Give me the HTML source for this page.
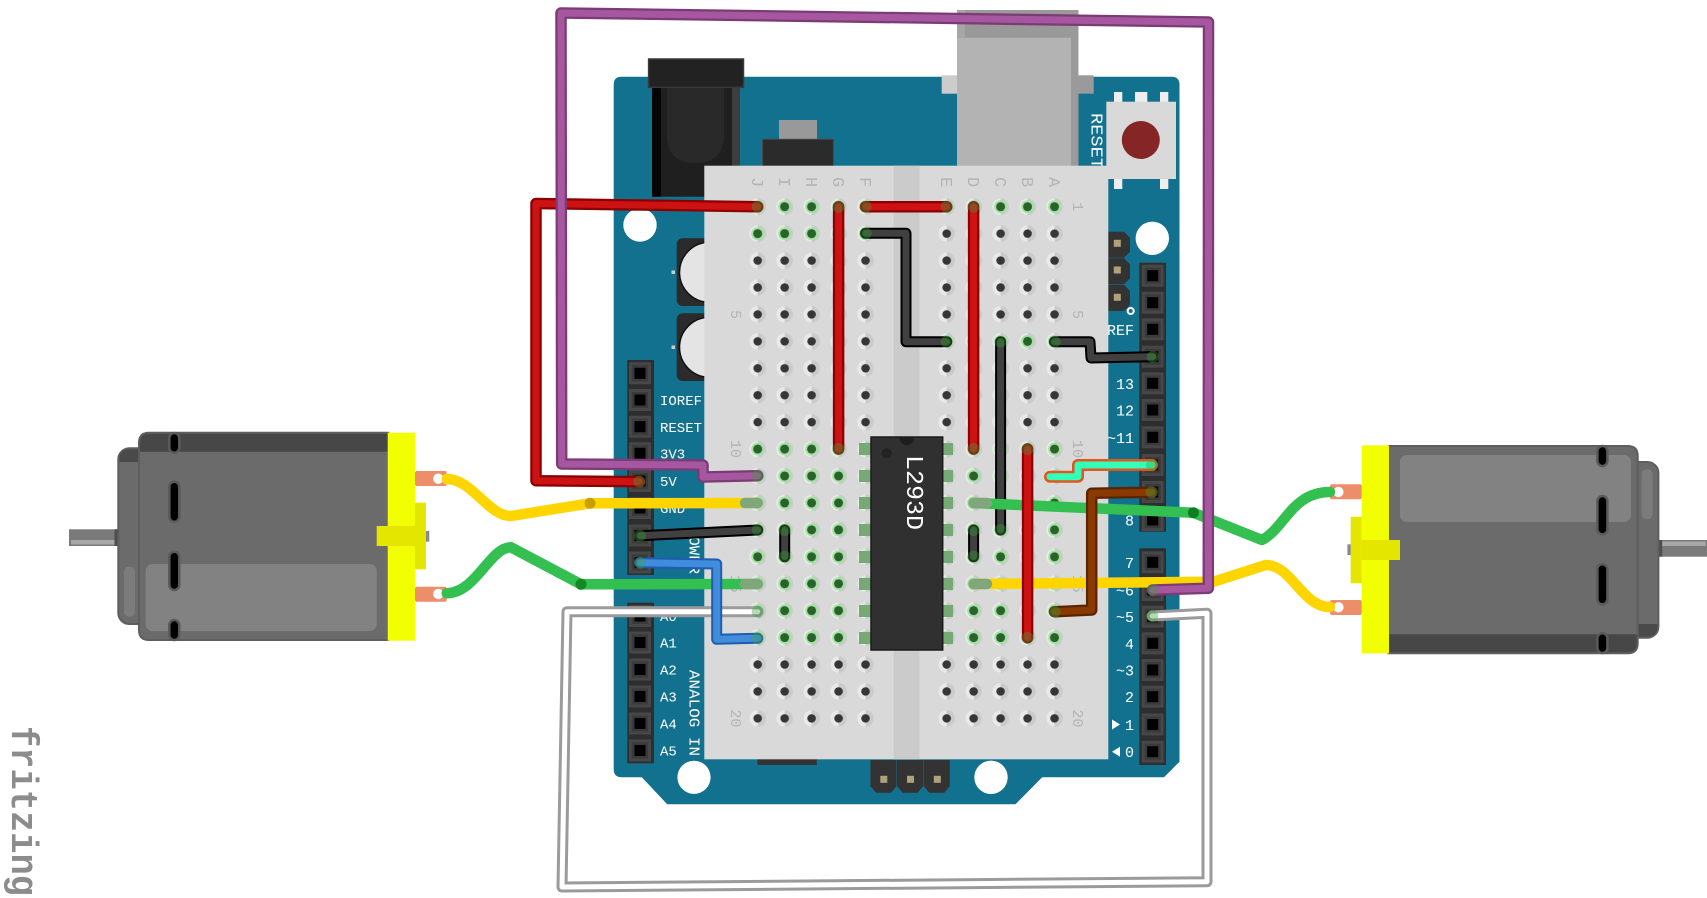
<!DOCTYPE html>
<html><head><meta charset="utf-8"><style>
html,body{margin:0;padding:0;background:#fff;}
svg{display:block;}
.lbl{font-family:"Liberation Mono","DejaVu Sans Mono",monospace;fill:#fff;}
.bb{font-family:"Liberation Mono","DejaVu Sans Mono",monospace;fill:#b4b4b4;}
</style></head><body>
<svg width="1707" height="898" viewBox="0 0 1707 898" xmlns="http://www.w3.org/2000/svg">
<defs>
<pattern id="hL" patternUnits="userSpaceOnUse" x="744.22" y="193.235" width="26.96" height="26.93">
 <circle cx="13.48" cy="13.465" r="8.3" fill="#cbcbcb"/>
 <path d="M13.48,5.165 A8.3,8.3 0 0 0 13.48,21.765 Z" fill="#e9e9e9"/>
 <circle cx="13.48" cy="13.465" r="4.3" fill="#363636"/>
</pattern>
<pattern id="hR" patternUnits="userSpaceOnUse" x="933.22" y="193.235" width="26.96" height="26.93">
 <circle cx="13.48" cy="13.465" r="8.3" fill="#cbcbcb"/>
 <path d="M13.48,5.165 A8.3,8.3 0 0 0 13.48,21.765 Z" fill="#e9e9e9"/>
 <circle cx="13.48" cy="13.465" r="4.3" fill="#363636"/>
</pattern>
<pattern id="gL" patternUnits="userSpaceOnUse" x="744.22" y="193.235" width="26.96" height="26.93">
 <circle cx="13.48" cy="13.465" r="8.3" fill="#cbcbcb"/>
 <path d="M13.48,5.165 A8.3,8.3 0 0 0 13.48,21.765 Z" fill="#e9e9e9"/>
 <circle cx="13.48" cy="13.465" r="6.4" fill="#9de69d"/>
 <circle cx="13.48" cy="13.465" r="4.5" fill="#2c602c"/>
</pattern>
<pattern id="gR" patternUnits="userSpaceOnUse" x="933.22" y="193.235" width="26.96" height="26.93">
 <circle cx="13.48" cy="13.465" r="8.3" fill="#cbcbcb"/>
 <path d="M13.48,5.165 A8.3,8.3 0 0 0 13.48,21.765 Z" fill="#e9e9e9"/>
 <circle cx="13.48" cy="13.465" r="6.4" fill="#9de69d"/>
 <circle cx="13.48" cy="13.465" r="4.5" fill="#2c602c"/>
</pattern>
<g id="pin">
 <rect x="-11" y="-11" width="22" height="22" fill="#474747"/>
 <rect x="-8" y="-8" width="16" height="16" fill="#3a3a3a"/>
 <rect x="-5.5" y="-5.5" width="11" height="11" fill="#000"/>
</g>
<g id="motor">
 <rect x="69" y="529.3" width="50" height="16.7" fill="#7a7a7a"/>
 <rect x="71" y="540" width="44" height="4.5" fill="#a8a8a8"/>
 <rect x="114.5" y="529.3" width="5" height="16.7" fill="#4d4d4d"/>
 <rect x="118.3" y="448.3" width="30" height="175.7" rx="11" fill="#6b6b6b" stroke="#5e5e5e" stroke-width="2"/>
 <path d="M119.3,462 V459 Q119.3,449.3 130,449.3 H141 V462 Z" fill="#4a4a4a"/>
 <rect x="124" y="566.7" width="11" height="50" rx="5" fill="#7c7c7c"/>
 <path d="M149,432.7 H388.3 V640 H149 Q139,640 139,630 V442.7 Q139,432.7 149,432.7 Z" fill="#6b6b6b" stroke="#5e5e5e" stroke-width="2"/>
 <path d="M149,433.7 H388 V451.7 H140 V443 Q140,433.7 149,433.7 Z" fill="#474747"/>
 <rect x="145.7" y="564" width="231" height="67" rx="7" fill="#828282"/>
 <rect x="169.3" y="433" width="10" height="19.7" rx="5" fill="#000" stroke="#5a5a5a" stroke-width="2.5"/>
 <rect x="169.3" y="481.7" width="10" height="40" rx="5" fill="#000" stroke="#5a5a5a" stroke-width="2.5"/>
 <rect x="169.3" y="551.7" width="10" height="38.3" rx="5" fill="#000" stroke="#5a5a5a" stroke-width="2.5"/>
 <rect x="169.3" y="620" width="10" height="20" rx="5" fill="#000" stroke="#5a5a5a" stroke-width="2.5"/>
 <rect x="387.7" y="432.7" width="27.3" height="208" fill="#f2ff00"/>
 <rect x="376.7" y="526" width="38.3" height="20" fill="#e4e600"/>
 <rect x="415" y="502.7" width="11" height="66.6" fill="#e4e600"/>
 <rect x="426" y="531" width="3.3" height="10.7" fill="#8a8a8a"/>
 <rect x="415" y="471" width="31.7" height="15" rx="2" fill="#ee8d69"/>
 <circle cx="438.3" cy="478.7" r="5.2" fill="#fff"/>
 <rect x="415" y="586.7" width="31.7" height="15" rx="2" fill="#ee8d69"/>
 <circle cx="438.3" cy="594" r="5.2" fill="#fff"/>
</g>
</defs>

<!-- Arduino board -->
<path d="M621.4,76.7 H1171.5 Q1179.5,76.7 1179.5,84.7 V761.7 L1164,777.3 H1042.2 L1015.4,804.3 H667.2 L641.8,777.3 H621.7 Q613.7,777.3 613.7,769.3 V84.7 Q613.7,76.7 621.4,76.7 Z" fill="#12718e"/>
<circle cx="640" cy="225" r="16.7" fill="#fff"/>
<circle cx="1152.3" cy="238.3" r="16.7" fill="#fff"/>
<circle cx="694" cy="777.3" r="16.6" fill="#fff"/>
<circle cx="991" cy="777.3" r="16.7" fill="#fff"/>

<!-- USB -->
<rect x="941.7" y="75.3" width="15.3" height="18.4" fill="#cccccc"/>
<rect x="1078.4" y="75.3" width="15.3" height="18.4" fill="#9a9a9a"/>
<rect x="957" y="10" width="121.4" height="160" fill="#b3b3b3"/>
<rect x="957" y="10" width="121.4" height="27.7" fill="#999"/>
<rect x="957" y="10" width="8" height="27.7" fill="#a6a6a6"/>
<rect x="1071" y="10" width="7.4" height="160" fill="#9a9a9a"/>

<!-- power jack -->
<rect x="652" y="87.3" width="88" height="109.4" fill="#1f1f1f"/>
<rect x="652" y="87.3" width="9" height="109.4" fill="#050505"/>
<rect x="732" y="87.3" width="8" height="109.4" fill="#3d3d3d"/>
<path d="M667,87.3 V135 Q667,163 695,163 Q724,163 724,135 V87.3 Z" fill="#292929"/>
<rect x="648.6" y="59" width="94.9" height="28.3" fill="#222" stroke="#3a3a3a" stroke-width="1.5"/>

<!-- regulator -->
<rect x="779" y="120" width="38" height="19.3" fill="#999"/>
<rect x="762.6" y="139.3" width="70.8" height="30" fill="#2b2b2b" stroke="#474747" stroke-width="1"/>

<!-- capacitors -->
<rect x="676.7" y="238.3" width="40" height="67.7" rx="6" fill="#2b2b2b"/>
<circle cx="709.5" cy="272.3" r="30" fill="#e4e4e4" stroke="#111" stroke-width="1.5"/>
<rect x="676.7" y="313.3" width="40" height="67.7" rx="6" fill="#2b2b2b"/>
<circle cx="709.5" cy="347.3" r="30" fill="#e4e4e4" stroke="#111" stroke-width="1.5"/>
<rect x="671.5" y="270.5" width="3.5" height="3.5" fill="#ccc"/>
<rect x="671.5" y="345.5" width="3.5" height="3.5" fill="#ccc"/>

<!-- reset -->
<rect x="1114" y="92" width="8.3" height="10" fill="#eee"/>
<rect x="1135" y="92" width="12.3" height="10" fill="#eee"/>
<rect x="1160" y="92" width="8.3" height="10" fill="#eee"/>
<rect x="1114" y="178" width="8.3" height="11" fill="#eee"/>
<rect x="1160" y="178" width="8.3" height="11" fill="#eee"/>
<rect x="1106.3" y="101.7" width="69.7" height="77.3" fill="#d9d9d9"/>
<circle cx="1140.8" cy="140" r="19" fill="#862525"/>
<text class="lbl" font-size="17" transform="translate(1091.5,113) rotate(90)" textLength="56" lengthAdjust="spacingAndGlyphs">RESET</text>

<!-- ICSP right -->
<path d="M1108,231.7 H1124 L1130,237.7 V251.7 L1124,257.7 H1108 Z" fill="#333"/>
<path d="M1108,258.3 H1124 L1130,264.3 V278.3 L1124,284.3 H1108 Z" fill="#333"/>
<path d="M1108,284.9 H1124 L1130,290.9 V304.9 L1124,310.9 H1108 Z" fill="#333"/>
<rect x="1113.8" y="239.8" width="7" height="7" fill="#b0a37a"/>
<rect x="1113.8" y="266.5" width="7" height="7" fill="#b0a37a"/>
<rect x="1113.8" y="293.8" width="7" height="7" fill="#b0a37a"/>
<circle cx="1130.7" cy="311" r="3" fill="none" stroke="#fff" stroke-width="2"/>

<!-- ICSP bottom -->
<path d="M870.4,760 H896.5 V786 L891,792.7 H876 L870.4,786 Z" fill="#333"/>
<path d="M897,760 H923.2 V786 L917.6,792.7 H902.6 L897,786 Z" fill="#333"/>
<path d="M923.7,760 H949.8 V786 L944.3,792.7 H929.3 L923.7,786 Z" fill="#333"/>
<rect x="880.3" y="775.8" width="7" height="7" fill="#b0a37a"/>
<rect x="907" y="775.8" width="7" height="7" fill="#b0a37a"/>
<rect x="933.8" y="775.8" width="7" height="7" fill="#b0a37a"/>
<rect x="757.4" y="757" width="59.4" height="8" fill="#333"/>

<!-- headers -->
<rect x="627.3" y="360" width="26.7" height="215" fill="#2e2e2e"/>
<rect x="627.3" y="602.7" width="26.7" height="160.6" fill="#2e2e2e"/>
<rect x="1139.3" y="262.7" width="26.7" height="269" fill="#2e2e2e"/>
<rect x="1139.3" y="548.3" width="26.7" height="216.7" fill="#2e2e2e"/>
<use href="#pin" x="640" y="373.3"/><use href="#pin" x="640" y="400"/><use href="#pin" x="640" y="426.7"/><use href="#pin" x="640" y="453.3"/>
<use href="#pin" x="640" y="481"/><use href="#pin" x="640" y="508"/><use href="#pin" x="640" y="535.5"/><use href="#pin" x="640" y="562.5"/>
<use href="#pin" x="640" y="616"/><use href="#pin" x="640" y="642.5"/><use href="#pin" x="640" y="669.5"/><use href="#pin" x="640" y="696.5"/><use href="#pin" x="640" y="723.5"/><use href="#pin" x="640" y="750.5"/>
<use href="#pin" x="1152.7" y="275.7"/><use href="#pin" x="1152.7" y="302.7"/><use href="#pin" x="1152.7" y="329.3"/><use href="#pin" x="1152.7" y="356.7"/><use href="#pin" x="1152.7" y="383.3"/>
<use href="#pin" x="1152.7" y="410"/><use href="#pin" x="1152.7" y="437.3"/><use href="#pin" x="1152.7" y="465"/><use href="#pin" x="1152.7" y="492"/><use href="#pin" x="1152.7" y="520"/>
<use href="#pin" x="1152.7" y="562.3"/><use href="#pin" x="1152.7" y="590"/><use href="#pin" x="1152.7" y="616.7"/><use href="#pin" x="1152.7" y="643.3"/><use href="#pin" x="1152.7" y="670"/>
<use href="#pin" x="1152.7" y="696.7"/><use href="#pin" x="1152.7" y="724.5"/><use href="#pin" x="1152.7" y="751.7"/>

<!-- board labels -->
<g class="lbl" font-size="14">
<text x="660" y="405">IOREF</text>
<text x="660" y="432">RESET</text>
<text x="660" y="458.5">3V3</text>
<text x="660" y="486">5V</text>
<text x="660" y="513">GND</text>
<text x="660" y="621">A0</text>
<text x="660" y="647.5">A1</text>
<text x="660" y="674.5">A2</text>
<text x="660" y="701.5">A3</text>
<text x="660" y="728.5">A4</text>
<text x="660" y="755.5">A5</text>
</g>
<text class="lbl" font-size="15" transform="translate(689.5,670) rotate(90)" textLength="86" lengthAdjust="spacingAndGlyphs">ANALOG IN</text>
<text class="lbl" font-size="15" transform="translate(689.5,527) rotate(90)" textLength="47" lengthAdjust="spacingAndGlyphs">POWER</text>
<g class="lbl" font-size="15" text-anchor="end">
<text x="1134" y="335">AREF</text>
<text x="1134" y="389">13</text>
<text x="1134" y="415.5">12</text>
<text x="1134" y="443">~11</text>
<text x="1134" y="470.5">~10</text>
<text x="1134" y="497.5">~9</text>
<text x="1134" y="525.5">8</text>
<text x="1134" y="568">7</text>
<text x="1134" y="595.5">~6</text>
<text x="1134" y="622">~5</text>
<text x="1134" y="649">4</text>
<text x="1134" y="675.5">~3</text>
<text x="1134" y="702">2</text>
<text x="1134" y="730">1</text>
<text x="1134" y="757">0</text>
</g>
<polygon points="1112,719.5 1120,724.5 1112,729.5" fill="#fff"/>
<polygon points="1120,746.7 1112,751.7 1120,756.7" fill="#fff"/>

<!-- breadboard -->
<rect x="704.3" y="165.7" width="404" height="593.6" fill="#d9d9d9"/>
<rect x="893.6" y="165.7" width="25.9" height="593.6" fill="#cbcbcb"/>
<rect x="744.22" y="193.235" width="134.8" height="538.6" fill="url(#hL)"/>
<rect x="933.22" y="193.235" width="134.8" height="538.6" fill="url(#hR)"/>
<rect x="744.22" y="193.235" width="134.8" height="53.86" fill="url(#gL)"/>
<rect x="744.22" y="435.605" width="134.8" height="215.44" fill="url(#gL)"/>
<rect x="933.22" y="193.235" width="134.8" height="26.93" fill="url(#gR)"/>
<rect x="933.22" y="327.885" width="134.8" height="26.93" fill="url(#gR)"/>
<rect x="933.22" y="435.605" width="134.8" height="215.44" fill="url(#gR)"/>

<g class="bb" font-size="17">
<text transform="translate(752,177) rotate(90)">J</text>
<text transform="translate(779,177) rotate(90)">I</text>
<text transform="translate(806,177) rotate(90)">H</text>
<text transform="translate(833,177) rotate(90)">G</text>
<text transform="translate(860,177) rotate(90)">F</text>
<text transform="translate(941,177) rotate(90)">E</text>
<text transform="translate(968,177) rotate(90)">D</text>
<text transform="translate(995,177) rotate(90)">C</text>
<text transform="translate(1022,177) rotate(90)">B</text>
<text transform="translate(1049,177) rotate(90)">A</text>
</g>
<g class="bb" font-size="15" text-anchor="middle">
<text transform="translate(731,314.5) rotate(90)">5</text>
<text transform="translate(731,449) rotate(90)">10</text>
<text transform="translate(731,583.8) rotate(90)">15</text>
<text transform="translate(731,718.4) rotate(90)">20</text>
<text transform="translate(1073,206.7) rotate(90)">1</text>
<text transform="translate(1073,314.5) rotate(90)">5</text>
<text transform="translate(1073,449) rotate(90)">10</text>
<text transform="translate(1073,583.8) rotate(90)">15</text>
<text transform="translate(1073,718.4) rotate(90)">20</text>
</g>

<!-- chip -->
<g fill="#76a976">
<rect x="859" y="443" width="13" height="12"/><rect x="859" y="470" width="13" height="12"/><rect x="859" y="497" width="13" height="12"/><rect x="859" y="524" width="13" height="12"/>
<rect x="859" y="551" width="13" height="12"/><rect x="859" y="578" width="13" height="12"/><rect x="859" y="605" width="13" height="12"/><rect x="859" y="632" width="13" height="12"/>
<rect x="941" y="443" width="12" height="12"/><rect x="941" y="470" width="12" height="12"/><rect x="941" y="497" width="12" height="12"/><rect x="941" y="524" width="12" height="12"/>
<rect x="941" y="551" width="12" height="12"/><rect x="941" y="578" width="12" height="12"/><rect x="941" y="605" width="12" height="12"/><rect x="941" y="632" width="12" height="12"/>
</g>
<rect x="871" y="437" width="71.7" height="213" fill="#303030" stroke="#1a1a1a" stroke-width="1.5"/>
<path d="M899.5,437.8 A7.3,7.3 0 0 0 914.1,437.8 Z" fill="#1e1e1e"/>
<circle cx="886.7" cy="453.3" r="5" fill="#222"/>
<text class="lbl" font-size="24" transform="translate(907,455) rotate(90)" textLength="75" lengthAdjust="spacingAndGlyphs">L293D</text>

<!-- motors -->
<use href="#motor"/>
<use href="#motor" transform="translate(1776.7,1086) rotate(180)"/>

<!-- wires -->
<g fill="none" stroke-linecap="round" stroke-linejoin="round">
 <!-- white -->
 <path d="M757.7,611.7 L567,611.7 L562,887 L1207,881.7 L1207,613.3 L1152.3,616" stroke="#9b9b9b" stroke-width="11"/>
 <path d="M757.7,611.7 L567,611.7 L562,887 L1207,881.7 L1207,613.3 L1152.3,616" stroke="#fff" stroke-width="5"/>
 <!-- yellow left -->
 <path d="M446.7,479 C472,479 488,516 511,516 L590,503.3 L757.7,503" stroke="#ffd500" stroke-width="10.5"/>
 <!-- green left -->
 <path d="M446.7,593.3 C476,593 490,547 511,547.3 L581,584.3 L757.7,584" stroke="#34c050" stroke-width="10.5"/>
 <!-- black GND -->
 <path d="M640,535.7 L757.7,530" stroke="#000" stroke-width="11"/>
 <path d="M640,535.7 L757.7,530" stroke="#404040" stroke-width="7"/>
 <!-- blue -->
 <path d="M640,562.7 L716.7,564 L716.7,639.3 L757.7,638.3" stroke="#1f5cb2" stroke-width="11"/>
 <path d="M640,562.7 L716.7,564 L716.7,639.3 L757.7,638.3" stroke="#418ddc" stroke-width="7"/>
 <!-- red A -->
 <path d="M757.7,206.7 L536,203.5 L536,480.7 L639.3,481.7" stroke="#8b0000" stroke-width="11.5"/>
 <path d="M757.7,206.7 L536,203.5 L536,480.7 L639.3,481.7" stroke="#cc1212" stroke-width="7"/>
 <!-- black wires -->
 <path d="M865.6,233.3 L906,233.3 L906,341.7 L946.7,341.7 M1054.5,341.7 L1090,341.7 L1091,358 L1152.7,356.7 M1000.6,341.7 L1000.6,530 M784.7,530 L784.7,556.7 M973.6,530 L973.6,556.7" stroke="#000" stroke-width="11"/>
 <path d="M865.6,233.3 L906,233.3 L906,341.7 L946.7,341.7 M1054.5,341.7 L1090,341.7 L1091,358 L1152.7,356.7 M1000.6,341.7 L1000.6,530 M784.7,530 L784.7,556.7 M973.6,530 L973.6,556.7" stroke="#404040" stroke-width="7"/>
 <!-- green right / yellow right -->
 <path d="M973.6,503 L1193.4,512.7 L1262,540 C1285,528 1292,492 1330,492" stroke="#34c050" stroke-width="10.5"/>
 <path d="M973.6,584 L1213.6,581.7 L1265.7,565 C1292,565 1302,607 1330,607" stroke="#ffd500" stroke-width="10.5"/>
 <!-- red wires -->
 <path d="M838.6,206.7 L838.6,449 M865.6,206.7 L946.7,206.7 M973.6,206.7 L973.6,449 M1027.6,449 L1027.6,637.7" stroke="#8b0000" stroke-width="11.5"/>
 <path d="M838.6,206.7 L838.6,449 M865.6,206.7 L946.7,206.7 M973.6,206.7 L973.6,449 M1027.6,449 L1027.6,637.7" stroke="#cc1212" stroke-width="7"/>
 <!-- brown -->
 <path d="M1054.5,611.7 L1091.7,610 L1091.7,493.3 L1151.7,492.3" stroke="#5a2400" stroke-width="11.5"/>
 <path d="M1054.5,611.7 L1091.7,610 L1091.7,493.3 L1151.7,492.3" stroke="#8a3a00" stroke-width="7"/>
 <!-- cyan/orange -->
 <path d="M1050,476.7 L1078,476.7 L1078,465 L1152,465" stroke="#e0561c" stroke-width="12"/>
 <path d="M1050,476.7 L1078,476.7 L1078,465 L1152,465" stroke="#33ffbb" stroke-width="7"/>
 <!-- purple -->
 <path d="M757.7,475.7 L703,477 L703,465 L561.7,464 L561,13 L1208.5,22 L1208.3,588.3 L1152.7,590" stroke="#7b3b74" stroke-width="11.5"/>
 <path d="M757.7,475.7 L703,477 L703,465 L561.7,464 L561,13 L1208.5,22 L1208.3,588.3 L1152.7,590" stroke="#a756a0" stroke-width="7"/>
 <!-- greenish connected ends of yellow/green -->
 <path d="M745,503 L757.7,503 M745,584 L757.7,584 M973.6,503 L987,503 M973.6,584 L987,584" stroke="#7fa77b" stroke-width="10.5"/>
</g>
<!-- joints -->
<circle cx="590" cy="503.3" r="5.5" fill="#c9a000"/>
<circle cx="581" cy="584.3" r="5.5" fill="#118a22"/>
<circle cx="1193.4" cy="512.7" r="5.5" fill="#0e7e1e"/>

<!-- connected-end overlays -->
<g fill="#3ca03c" fill-opacity="0.38">
<circle cx="757.7" cy="206.7" r="6"/><circle cx="838.6" cy="206.7" r="6"/><circle cx="865.6" cy="206.7" r="6"/><circle cx="946.7" cy="206.7" r="6"/><circle cx="973.6" cy="206.7" r="6"/>
<circle cx="865.6" cy="233.3" r="6"/><circle cx="946.7" cy="341.7" r="6"/><circle cx="1000.6" cy="341.7" r="6"/><circle cx="1054.5" cy="341.7" r="6"/><circle cx="1152.7" cy="356.7" r="6"/>
<circle cx="838.6" cy="449" r="6"/><circle cx="973.6" cy="449" r="6"/><circle cx="1027.6" cy="449" r="6"/><circle cx="1027.6" cy="637.7" r="6"/><circle cx="1000.6" cy="530" r="6"/>
<circle cx="757.7" cy="475.7" r="6"/><circle cx="1152.7" cy="590" r="6"/><circle cx="1152" cy="465" r="6"/><circle cx="1054.5" cy="611.7" r="6"/><circle cx="1151.7" cy="492.3" r="6"/>
<circle cx="757.7" cy="530" r="6"/><circle cx="640" cy="535.7" r="6"/><circle cx="784.7" cy="530" r="6"/><circle cx="784.7" cy="556.7" r="6"/><circle cx="973.6" cy="530" r="6"/><circle cx="973.6" cy="556.7" r="6"/>
<circle cx="640" cy="562.7" r="6"/><circle cx="757.7" cy="638.3" r="6"/><circle cx="757.7" cy="611.7" r="6"/><circle cx="1152.3" cy="616" r="6"/><circle cx="639.3" cy="481.7" r="6"/>
</g>

<!-- fritzing logo -->
<text transform="translate(12,726) rotate(90)" font-family="Liberation Mono, DejaVu Sans Mono, monospace" font-size="38" font-weight="bold" fill="#8c8c8c" textLength="170" lengthAdjust="spacingAndGlyphs">fritzing</text>
</svg>
</body></html>
